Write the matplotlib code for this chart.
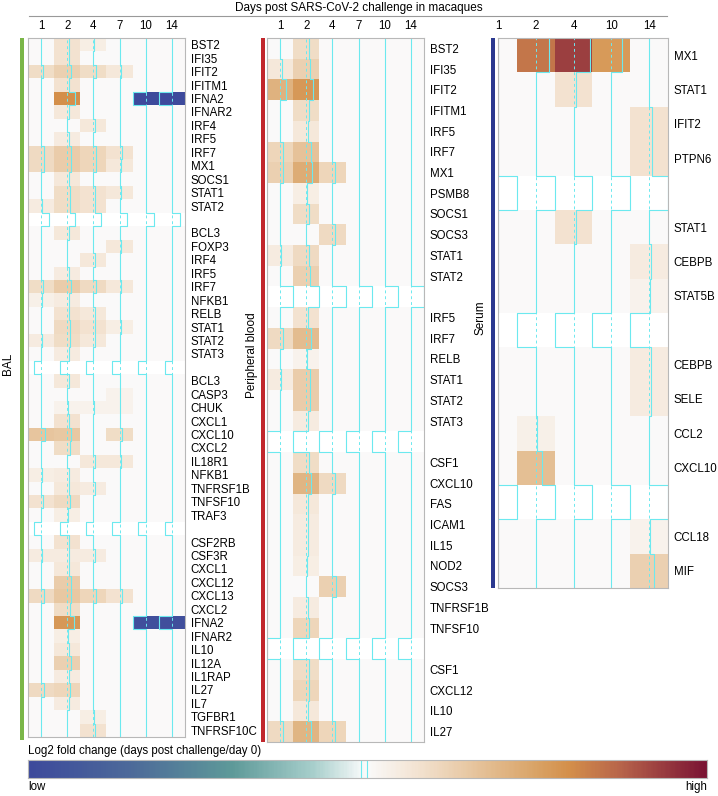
import numpy as np
import matplotlib
matplotlib.use('Agg')
import matplotlib.pyplot as plt
from matplotlib.colors import LinearSegmentedColormap
from matplotlib.patches import Rectangle
from matplotlib.lines import Line2D

plt.rcParams['font.family'] = ['Liberation Sans', 'DejaVu Sans']

nan = np.nan

# ---- data (log2 fold change, scaled so that -1 = low, +1 = high) ----
bal_days = ['1', '2', '4', '7', '10', '14']
bal_genes = ['BST2', 'IFI35', 'IFIT2', 'IFITM1', 'IFNA2', 'IFNAR2', 'IRF4', 'IRF5', 'IRF7', 'MX1',
             'SOCS1', 'STAT1', 'STAT2', '',
             'BCL3', 'FOXP3', 'IRF4', 'IRF5', 'IRF7', 'NFKB1', 'RELB', 'STAT1', 'STAT2', 'STAT3', '',
             'BCL3', 'CASP3', 'CHUK', 'CXCL1', 'CXCL10', 'CXCL2', 'IL18R1', 'NFKB1', 'TNFRSF1B',
             'TNFSF10', 'TRAF3', '',
             'CSF2RB', 'CSF3R', 'CXCL1', 'CXCL12', 'CXCL13', 'CXCL2', 'IFNA2', 'IFNAR2', 'IL10',
             'IL12A', 'IL1RAP', 'IL27', 'IL7', 'TGFBR1', 'TNFRSF10C']
bal_vals = [
    [0, 0.15, 0.08, 0, 0, 0],
    [0, 0.15, 0, 0, 0, 0],
    [0.18, 0.25, 0.18, 0.12, 0, 0],
    [0, 0.15, 0, 0, 0, 0],
    [0, 0.6, 0, 0, -1, -1],
    [0, 0.12, 0, 0, 0, 0],
    [0, 0, 0.12, 0, 0, 0],
    [0, 0.1, 0, 0, 0, 0],
    [0.2, 0.28, 0.22, 0.15, 0, 0],
    [0.2, 0.28, 0.22, 0.12, 0, 0],
    [0, 0.12, 0, 0, 0, 0],
    [0, 0.18, 0.15, 0.12, 0, 0],
    [0.1, 0.18, 0.15, 0, 0, 0],
    [nan] * 6,
    [0, 0.12, 0, 0, 0, 0],
    [0, 0, 0, 0.12, 0, 0],
    [0, 0, 0.12, 0, 0, 0],
    [0, 0.1, 0, 0, 0, 0],
    [0.18, 0.28, 0.2, 0.12, 0, 0],
    [0.07, 0.1, 0, 0, 0, 0],
    [0, 0.15, 0.12, 0, 0, 0],
    [0, 0.2, 0.15, 0.08, 0, 0],
    [0.1, 0.18, 0.12, 0, 0, 0],
    [0, 0.1, 0, 0, 0, 0],
    [nan] * 6,
    [0, 0.12, 0, 0, 0, 0],
    [0, 0, 0, 0.05, 0, 0],
    [0, 0.05, 0.05, 0.05, 0, 0],
    [0, 0.15, 0, 0, 0, 0],
    [0.32, 0.3, 0, 0.18, 0, 0],
    [0, 0.18, 0, 0, 0, 0],
    [0, 0, 0.12, 0.12, 0, 0],
    [0.08, 0.1, 0, 0, 0, 0],
    [0, 0.12, 0.1, 0, 0, 0],
    [0.15, 0.2, 0, 0, 0, 0],
    [0, 0.08, 0, 0, 0, 0],
    [nan] * 6,
    [0, 0.15, 0, 0, 0, 0],
    [0.1, 0.1, 0.1, 0, 0, 0],
    [0, 0.12, 0, 0, 0, 0],
    [0, 0.28, 0, 0, 0, 0],
    [0.2, 0.3, 0.22, 0.15, 0, 0],
    [0, 0.18, 0, 0, 0, 0],
    [0, 0.55, 0, 0, -0.95, -0.95],
    [0, 0.08, 0, 0, 0, 0],
    [0, 0.12, 0, 0, 0, 0],
    [0, 0.25, 0, 0, 0, 0],
    [0, 0.1, 0, 0, 0, 0],
    [0.2, 0.22, 0, 0, 0, 0],
    [0, 0.1, 0, 0, 0, 0],
    [0, 0, 0.08, 0, 0, 0],
    [0, 0, 0.15, 0, 0, 0],
]

pb_days = ['1', '2', '4', '7', '10', '14']
pb_genes = ['BST2', 'IFI35', 'IFIT2', 'IFITM1', 'IRF5', 'IRF7', 'MX1', 'PSMB8', 'SOCS1', 'SOCS3',
            'STAT1', 'STAT2', '',
            'IRF5', 'IRF7', 'RELB', 'STAT1', 'STAT2', 'STAT3', '',
            'CSF1', 'CXCL10', 'FAS', 'ICAM1', 'IL15', 'NOD2', 'SOCS3', 'TNFRSF1B', 'TNFSF10', '',
            'CSF1', 'CXCL12', 'IL10', 'IL27']
pb_vals = [
    [0, 0.18, 0, 0, 0, 0],
    [0.12, 0.25, 0, 0, 0, 0],
    [0.42, 0.55, 0, 0, 0, 0],
    [0, 0.18, 0, 0, 0, 0],
    [0, 0.12, 0, 0, 0, 0],
    [0.22, 0.33, 0, 0, 0, 0],
    [0.25, 0.45, 0.22, 0, 0, 0],
    [0, 0.08, 0, 0, 0, 0],
    [0, 0.18, 0, 0, 0, 0],
    [0, 0, 0.2, 0, 0, 0],
    [0.1, 0.2, 0, 0, 0, 0],
    [0, 0.25, 0, 0, 0, 0],
    [nan] * 6,
    [0, 0.15, 0, 0, 0, 0],
    [0.2, 0.36, 0, 0, 0, 0],
    [0, 0.05, 0, 0, 0, 0],
    [0.1, 0.28, 0, 0, 0, 0],
    [0, 0.28, 0, 0, 0, 0],
    [0, 0.1, 0, 0, 0, 0],
    [nan] * 6,
    [0, 0.18, 0, 0, 0, 0],
    [0, 0.4, 0.2, 0, 0, 0],
    [0, 0.12, 0, 0, 0, 0],
    [0, 0.1, 0, 0, 0, 0],
    [0, 0.1, 0, 0, 0, 0],
    [0, 0.08, 0, 0, 0, 0],
    [0, 0, 0.25, 0, 0, 0],
    [0, 0.1, 0, 0, 0, 0],
    [0, 0.22, 0, 0, 0, 0],
    [nan] * 6,
    [0, 0.18, 0, 0, 0, 0],
    [0, 0.22, 0, 0, 0, 0],
    [0, 0.12, 0, 0, 0, 0],
    [0.2, 0.4, 0.22, 0, 0, 0],
]

serum_days = ['1', '2', '4', '10', '14']
serum_genes = ['MX1', 'STAT1', 'IFIT2', 'PTPN6', '',
               'STAT1', 'CEBPB', 'STAT5B', '',
               'CEBPB', 'SELE', 'CCL2', 'CXCL10', '',
               'CCL18', 'MIF']
serum_vals = [
    [0, 0.68, 0.86, 0.54, 0],
    [0, 0, 0.15, 0, 0],
    [0, 0, 0, 0, 0.15],
    [0, 0, 0, 0, 0.15],
    [nan] * 5,
    [0, 0, 0.15, 0, 0],
    [0, 0, 0, 0, 0.1],
    [0, 0, 0, 0, 0.05],
    [nan] * 5,
    [0, 0, 0, 0, 0.1],
    [0, 0, 0, 0, 0.1],
    [0, 0.07, 0, 0, 0],
    [0, 0.35, 0, 0, 0],
    [nan] * 5,
    [0, 0, 0, 0, 0.05],
    [0, 0, 0, 0, 0.25],
]

# trace jump (in column widths) on the blank separator rows
bal_gap_shift = [0.3, -0.28, -0.28]
pb_gap_shift = [0.5, -0.5, -0.5]
serum_gap_shift = [0.5, -0.5, 0.5]

# ---- colours ----
cmap = LinearSegmentedColormap.from_list('lfc', [
    (0.0, '#3d4a9c'), (0.15, '#4d6a9a'), (0.3, '#5e9a99'), (0.42, '#a8cfcc'),
    (0.49, '#f4f8f8'), (0.5, '#fafafa'), (0.56, '#f5e8da'), (0.65, '#e8c8a3'),
    (0.75, '#d9a366'), (0.8, '#d48f4a'), (0.88, '#b5614a'), (1.0, '#7b1434')])
trace_col = '#6ce9ef'

W, H = 718, 796
fig = plt.figure(figsize=(W / 100, H / 100), dpi=100)


def px_axes(x0, y0, x1, y1):
    return fig.add_axes([x0 / W, 1 - y1 / H, (x1 - x0) / W, (y1 - y0) / H])


def draw_panel(ax, vals, genes, days, gap_shift, left=-0.5):
    arr = np.array(vals, dtype=float)
    nr, nc = arr.shape
    ax.pcolormesh(np.arange(nc + 1) - 0.5, np.arange(nr + 1) - 0.5,
                  np.ma.masked_invalid(arr), cmap=cmap, vmin=-1, vmax=1)
    ax.set_xlim(left, nc - 0.5)
    ax.set_ylim(nr - 0.5, -0.5)
    # column trace lines
    for j in range(nc):
        ax.axvline(j, color=trace_col, lw=0.7, ls=(0, (3, 3)))
        xs, ys = [], []
        g = 0
        for i in range(nr):
            v = arr[i, j]
            if np.isnan(v):
                off = gap_shift[g]
                if j == nc - 1:
                    g += 1
                else:
                    g += 1
            else:
                off = 0.5 * v
            xs += [j + off, j + off]
            ys += [i - 0.5, i + 0.5]
        ax.plot(xs, ys, color=trace_col, lw=0.8)
    rows = [i for i, gname in enumerate(genes) if gname]
    ax.set_yticks(rows)
    ax.set_yticklabels([genes[i] for i in rows], fontsize=8.3)
    ax.yaxis.tick_right()
    ax.set_xticks(range(nc))
    ax.set_xticklabels(days, fontsize=8.3)
    ax.tick_params(top=True, labeltop=True, bottom=False, labelbottom=False,
                   left=False, right=False, length=0)
    ax.tick_params(axis='x', pad=4)
    ax.tick_params(axis='y', pad=4)
    for s in ax.spines.values():
        s.set_color('#b8b8b8')
        s.set_linewidth(0.8)


ax1 = px_axes(28, 38, 185, 737)
draw_panel(ax1, bal_vals, bal_genes, bal_days, bal_gap_shift)
ax2 = px_axes(267, 38, 424, 742)
draw_panel(ax2, pb_vals, pb_genes, pb_days, pb_gap_shift)
ax3 = px_axes(498, 38, 668, 588)
draw_panel(ax3, serum_vals, serum_genes, serum_days, serum_gap_shift, left=0)

# side bars and panel names
for (x0, y1, col) in [(20, 740, '#7ab648'), (261, 742, '#c1272d'), (491, 588, '#2b3990')]:
    fig.add_artist(Rectangle((x0 / W, 1 - y1 / H), 4 / W, (y1 - 38) / H,
                             transform=fig.transFigure, color=col, lw=0))
fig.text(8 / W, 1 - 364 / H, 'BAL', rotation=90, ha='center', va='center', fontsize=8.5)
fig.text(252 / W, 1 - 355 / H, 'Peripheral blood', rotation=90, ha='center', va='center', fontsize=8.5)
fig.text(481 / W, 1 - 318 / H, 'Serum', rotation=90, ha='center', va='center', fontsize=8.5)

# title
fig.text(359 / W, 1 - 8 / H, 'Days post SARS-CoV-2 challenge in macaques',
         ha='center', va='center', fontsize=8.5)
fig.add_artist(Line2D([29 / W, 667 / W], [1 - 16 / H, 1 - 16 / H],
                      transform=fig.transFigure, color='#999999', lw=0.8))

# colour key
cax = px_axes(28, 760, 707, 778)
cax.imshow(np.linspace(-1, 1, 400)[None, :], aspect='auto', cmap=cmap,
           extent=[-1, 1, 0, 1], vmin=-1, vmax=1)
cax.add_patch(Rectangle((-0.02, 0), 0.018, 1, fill=False, ec=trace_col, lw=0.8))
cax.set_xlim(-1, 1)
cax.set_ylim(0, 1)
cax.set_xticks([])
cax.set_yticks([])
for s in cax.spines.values():
    s.set_color('#b8b8b8')
    s.set_linewidth(0.8)
fig.text(28 / W, 1 - 751 / H, 'Log2 fold change (days post challenge/day 0)',
         ha='left', va='center', fontsize=8.3)
fig.text(28 / W, 1 - 787 / H, 'low', ha='left', va='center', fontsize=8.3)
fig.text(707 / W, 1 - 787 / H, 'high', ha='right', va='center', fontsize=8.3)

fig.savefig('out.png', dpi=100)
